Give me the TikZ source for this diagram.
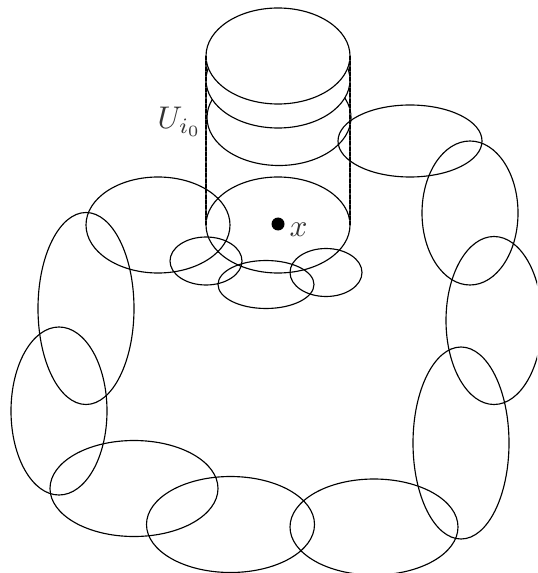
\documentclass[tikz,border=0pt]{standalone}
\usetikzlibrary{shapes.geometric}
\definecolor{labelgray}{gray}{0.2}
\tikzset{
  ring/.style={draw=black,line width=0.85pt},
  disc/.style={draw=black,line width=0.85pt,fill=white},
  sideline/.style={draw=black,line width=0.85pt,dash pattern=on 3pt off 1pt},
  sideback/.style={draw=black!75,line width=0.85pt},
  lab/.style={text=labelgray,inner sep=0pt,scale=2.35}
}
\begin{document}
\begin{tikzpicture}[x=0.75pt,y=-0.75pt]
\useasboundingbox (0,0) rectangle (537,573);
\clip (0,0) rectangle (537,573);
% cylinder
\draw[ring] (278,225) ellipse [x radius=72,y radius=48];
\draw[disc] (279,117.5) ellipse [x radius=72,y radius=48];
\draw[disc] (278,80) ellipse [x radius=72,y radius=48];
\draw[disc] (278,56) ellipse [x radius=72,y radius=48];
\coordinate (la) at (206,56); \coordinate (lb) at (206,225);
\coordinate (ra) at (350,56); \coordinate (rb) at (350,225);
\draw[sideback] (la) -- (lb);
\draw[sideback] (ra) -- (rb);
\draw[sideline] (la) -- (lb);
\draw[sideline] (ra) -- (rb);
% chain of charts
\draw[ring] (158,225) ellipse [x radius=72,y radius=48];
\draw[ring] (206,261) ellipse [x radius=36,y radius=24];
\draw[ring] (266,284.5) ellipse [x radius=48,y radius=24];
\draw[ring] (326,272.5) ellipse [x radius=36,y radius=24];
\draw[ring] (410,141) ellipse [x radius=72,y radius=36];
\draw[ring] (470,213) ellipse [x radius=48,y radius=72];
\draw[ring] (494,320.5) ellipse [x radius=48,y radius=84];
\draw[ring] (461,443) ellipse [x radius=48,y radius=96];
\draw[ring] (374,527) ellipse [x radius=84,y radius=48];
\draw[ring] (230.5,524.5) ellipse [x radius=84,y radius=48];
\draw[ring] (134,488.5) ellipse [x radius=84,y radius=48];
\draw[ring] (59,411) ellipse [x radius=48,y radius=84];
\draw[ring] (86,308.5) ellipse [x radius=48,y radius=96];
% point and labels
\fill[black] (278,224) circle [radius=6.5];
\node[lab,anchor=base west] (xlabel) at (289,236) {$x$};
\node[lab,anchor=base west] (ulabel) at (157,129) {$U_{i_0}$};
\end{tikzpicture}
\end{document}
